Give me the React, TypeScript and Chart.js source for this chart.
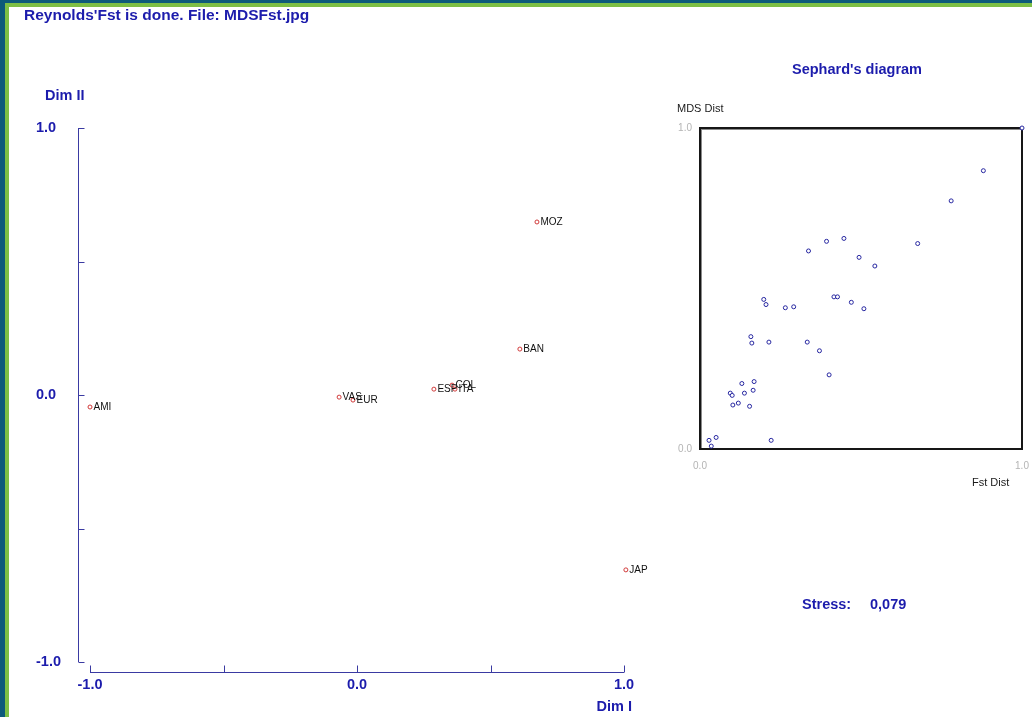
import React, { useEffect, useRef } from 'react';
import { Chart, registerables } from 'chart.js';

Chart.register(...registerables);

// ---- MDS configuration (Reynolds' Fst) ----
const populations = ['AMI', 'VAS', 'EUR', 'ESP', 'COL', 'ITA', 'BAN', 'MOZ', 'JAP'];
const dim1 = [-1.0, -0.067, -0.015, 0.288, 0.356, 0.367, 0.61, 0.674, 1.007];
const dim2 = [-0.045, -0.008, -0.019, 0.022, 0.037, 0.022, 0.172, 0.648, -0.655];
const mainTickValues = [-1, -0.5, 0, 0.5, 1];

// ---- Shepard's diagram ----
const fstDist = [
  0.337, 0.393, 0.447, 0.494, 0.543, 0.198, 0.205, 0.265, 0.291, 0.416, 0.427, 0.47,
  0.509, 0.158, 0.161, 0.214, 0.333, 0.371, 0.401, 0.13, 0.168, 0.094, 0.1, 0.138,
  0.165, 0.102, 0.119, 0.154, 0.028, 0.05, 0.035, 0.221, 0.88, 0.78, 0.676, 1.0,
];
const mdsDist = [
  0.617, 0.647, 0.656, 0.597, 0.57, 0.466, 0.45, 0.44, 0.443, 0.474, 0.474, 0.457,
  0.437, 0.35, 0.33, 0.333, 0.333, 0.306, 0.231, 0.204, 0.21, 0.174, 0.167, 0.174,
  0.183, 0.137, 0.143, 0.133, 0.027, 0.036, 0.009, 0.027, 0.867, 0.773, 0.64, 1.0,
];
const stressValue = '0,079';

const FONT = '"Liberation Sans", Arial, Helvetica, sans-serif';
const BLUE = '#1c1cac';
const AXIS = '#3a3aa2';

function fmt(v: number) {
  return Number(v).toFixed(1);
}

export default function App() {
  const mainRef = useRef<HTMLCanvasElement | null>(null);
  const shepRef = useRef<HTMLCanvasElement | null>(null);

  useEffect(() => {
    if (!mainRef.current || !shepRef.current) return;

    const axesPlugin = {
      id: 'mdsAxes',
      afterDraw(chart: any) {
        const { ctx } = chart;
        const xs = chart.scales.x;
        const ys = chart.scales.y;
        const ax = xs.getPixelForValue(-1) - 12;
        const ay = ys.getPixelForValue(-1) + 10;
        ctx.save();
        ctx.strokeStyle = AXIS;
        ctx.lineWidth = 1;
        ctx.beginPath();
        ctx.moveTo(Math.round(ax) + 0.5, ys.getPixelForValue(1));
        ctx.lineTo(Math.round(ax) + 0.5, ys.getPixelForValue(-1));
        for (const v of mainTickValues) {
          const py = Math.round(ys.getPixelForValue(v)) + 0.5;
          ctx.moveTo(Math.round(ax) + 0.5, py);
          ctx.lineTo(Math.round(ax) + 6.5, py);
        }
        ctx.moveTo(xs.getPixelForValue(-1), Math.round(ay) + 0.5);
        ctx.lineTo(xs.getPixelForValue(1), Math.round(ay) + 0.5);
        for (const v of mainTickValues) {
          const px = Math.round(xs.getPixelForValue(v)) + 0.5;
          ctx.moveTo(px, Math.round(ay) + 0.5);
          ctx.lineTo(px, Math.round(ay) - 6.5);
        }
        ctx.stroke();
        ctx.restore();
      },
    };

    const labelPlugin = {
      id: 'pointLabels',
      afterDatasetsDraw(chart: any) {
        const { ctx } = chart;
        const meta = chart.getDatasetMeta(0);
        ctx.save();
        ctx.font = `10px ${FONT}`;
        ctx.fillStyle = '#111';
        ctx.textBaseline = 'middle';
        ctx.textAlign = 'left';
        meta.data.forEach((el: any, i: number) => {
          ctx.fillText(populations[i], el.x + 3.5, el.y + 0.5);
        });
        ctx.restore();
      },
    };

    const main = new Chart(mainRef.current, {
      type: 'scatter',
      data: {
        datasets: [
          {
            data: dim1.map((x, i) => ({ x, y: dim2[i] })),
            pointRadius: 2,
            pointBorderWidth: 1,
            pointBorderColor: '#d03838',
            pointBackgroundColor: '#ffffff',
            clip: false as any,
          },
        ],
      },
      options: {
        animation: false,
        responsive: false,
        events: [],
        layout: { padding: { left: 36, right: 408, top: 128, bottom: 15 } },
        plugins: { legend: { display: false }, tooltip: { enabled: false } },
        scales: {
          x: {
            type: 'linear',
            min: -1,
            max: 1,
            afterFit: (s: any) => {
              s.height = 40;
              s.paddingLeft = 0;
              s.paddingRight = 0;
            },
            grid: { display: false, drawTicks: false },
            border: { display: false },
            ticks: {
              stepSize: 1,
              padding: 14,
              color: BLUE,
              font: { family: FONT, size: 14.5, weight: 'bold' },
              callback: (v: any) => fmt(v),
            },
          },
          y: {
            type: 'linear',
            min: -1,
            max: 1,
            afterFit: (s: any) => {
              s.width = 54;
              s.paddingTop = 0;
              s.paddingBottom = 0;
            },
            grid: { display: false, drawTicks: false },
            border: { display: false },
            ticks: {
              stepSize: 1,
              crossAlign: 'far',
              color: BLUE,
              font: { family: FONT, size: 14.5, weight: 'bold' },
              callback: (v: any) => fmt(v),
            },
          },
        },
      },
      plugins: [axesPlugin, labelPlugin],
    } as any);

    const framePlugin = {
      id: 'shepFrame',
      beforeDatasetsDraw(chart: any) {
        const { ctx, chartArea: a } = chart;
        ctx.save();
        ctx.strokeStyle = '#8a8a8a';
        ctx.lineWidth = 1;
        ctx.strokeRect(a.left + 1.5, a.top + 1.5, a.right - a.left - 1, a.bottom - a.top - 1);
        ctx.strokeStyle = '#161616';
        ctx.lineWidth = 2;
        ctx.strokeRect(a.left, a.top, a.right - a.left, a.bottom - a.top);
        ctx.restore();
      },
    };

    const shep = new Chart(shepRef.current, {
      type: 'scatter',
      data: {
        datasets: [
          {
            data: fstDist.map((x, i) => ({ x, y: mdsDist[i] })),
            pointRadius: 2,
            pointBorderWidth: 1,
            pointBorderColor: '#2626a0',
            pointBackgroundColor: '#ffffff',
            clip: false as any,
          },
        ],
      },
      options: {
        animation: false,
        responsive: false,
        events: [],
        layout: { padding: { left: 660, right: 10, top: 128, bottom: 238 } },
        plugins: { legend: { display: false }, tooltip: { enabled: false } },
        scales: {
          x: {
            type: 'linear',
            min: 0,
            max: 1,
            afterFit: (s: any) => {
              s.height = 30;
              s.paddingLeft = 0;
              s.paddingRight = 0;
            },
            grid: { display: false, drawTicks: false },
            border: { display: false },
            ticks: {
              stepSize: 1,
              padding: 11,
              color: '#b4b4b4',
              font: { family: FONT, size: 10 },
              callback: (v: any) => fmt(v),
            },
          },
          y: {
            type: 'linear',
            min: 0,
            max: 1,
            afterFit: (s: any) => {
              s.width = 40;
              s.paddingTop = 0;
              s.paddingBottom = 0;
            },
            grid: { display: false, drawTicks: false },
            border: { display: false },
            ticks: {
              stepSize: 1,
              padding: 8,
              color: '#b4b4b4',
              font: { family: FONT, size: 10 },
              callback: (v: any) => fmt(v),
            },
          },
        },
      },
      plugins: [framePlugin],
    } as any);

    return () => {
      main.destroy();
      shep.destroy();
    };
  }, []);

  const text = (
    content: string,
    left: number,
    baseline: number,
    size: number,
    opts: { bold?: boolean; color?: string; align?: 'left' | 'center' | 'right' } = {}
  ) => {
    const align = opts.align || 'left';
    const style: React.CSSProperties = {
      position: 'absolute',
      top: baseline - 0.846 * size,
      fontFamily: FONT,
      fontSize: size,
      lineHeight: `${size}px`,
      fontWeight: opts.bold ? 'bold' : 'normal',
      color: opts.color || BLUE,
      whiteSpace: 'pre',
    };
    if (align === 'left') style.left = left;
    else if (align === 'right') style.right = 1032 - left;
    else {
      style.left = left;
      style.transform = 'translateX(-50%)';
    }
    return <div style={style}>{content}</div>;
  };

  return (
    <div
      style={{
        position: 'fixed',
        left: 0,
        top: 0,
        width: 1032,
        height: 717,
        background: '#0d5a7a',
        overflow: 'hidden',
      }}
    >
      <div style={{ position: 'absolute', left: 5, top: 3, right: 0, bottom: 0, background: '#7dbf45' }} />
      <div style={{ position: 'absolute', left: 9, top: 7, right: 0, bottom: 0, background: '#ffffff' }} />
      <canvas ref={mainRef} width={1032} height={717} style={{ position: 'absolute', left: 0, top: 0 }} />
      <canvas ref={shepRef} width={1032} height={717} style={{ position: 'absolute', left: 0, top: 0 }} />
      {text("Reynolds'Fst is done. File: MDSFst.jpg", 24, 20, 15.5, { bold: true })}
      {text('Dim II', 45, 100, 14.5, { bold: true })}
      {text('Dim I', 632, 711, 14.5, { bold: true, align: 'right' })}
      {text("Sephard's diagram", 857, 74, 14.5, { bold: true, align: 'center' })}
      {text('MDS Dist', 677, 112, 11, { color: '#1a1a1a' })}
      {text('Fst Dist', 972, 486, 11, { color: '#1a1a1a' })}
      {text('Stress:', 802, 609, 14.5, { bold: true })}
      {text(stressValue, 870, 609, 14.5, { bold: true })}
    </div>
  );
}
